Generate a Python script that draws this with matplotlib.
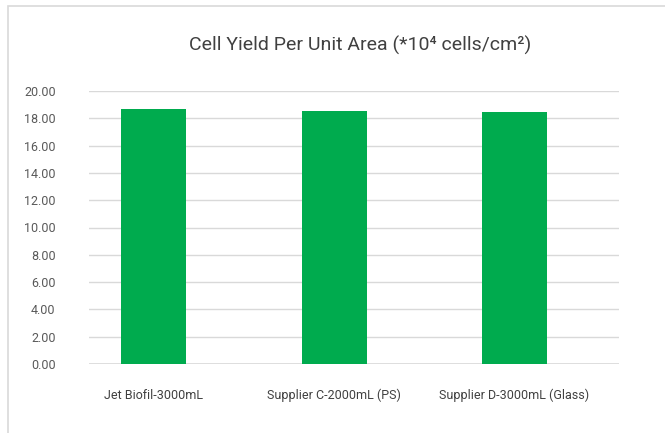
import matplotlib
matplotlib.use("Agg")
import matplotlib.pyplot as plt
from matplotlib.patches import Rectangle

categories = ["Jet Biofil-3000mL", "Supplier C-2000mL (PS)", "Supplier D-3000mL (Glass)"]
values = [18.68, 18.53, 18.46]
yticks = [0, 2, 4, 6, 8, 10, 12, 14, 16, 18, 20]
title = "Cell Yield Per Unit Area (*10\u2074 cells/cm\u00b2)"

plt.rcParams['font.family'] = ['Roboto', 'DejaVu Sans']

W, H = 665, 433
fig = plt.figure(figsize=(W/100, H/100), dpi=100)
fig.patch.set_facecolor('white')

# outer chart border
fig.add_artist(Rectangle((8/W, -0.05), 1.2, 1 - 6/H + 0.05, transform=fig.transFigure,
                         fill=False, edgecolor='#d9d9d9', linewidth=1.2))

ax = fig.add_axes([89/W, 1 - 364/H, (619-89)/W, (364-91)/H])
x = [0, 1.0, 2.0]
ax.bar(x, values, width=0.36, color='#00AB4E', zorder=3)
ax.set_xlim(-0.36, 2.58)
ax.set_ylim(0, 20)
ax.set_yticks(yticks)
ax.set_yticklabels([f"{v:.2f}" for v in yticks], color='#595959', fontsize=9)
ax.set_xticks(x)
ax.set_xticklabels(categories, color='#404040', fontsize=9)
ax.tick_params(axis='both', length=0)
ax.tick_params(axis='y', pad=24)
ax.tick_params(axis='x', pad=18)
ax.grid(axis='y', color='#d9d9d9', linewidth=1, zorder=0)
ax.set_axisbelow(True)
for s in ax.spines.values():
    s.set_visible(False)
ax.axhline(0, color='#d9d9d9', linewidth=1.2, zorder=2)

fig.text(360/W, 1 - 45/H, title, ha='center', va='center', fontsize=14, color='#404040')

fig.savefig("out.png", dpi=100)
